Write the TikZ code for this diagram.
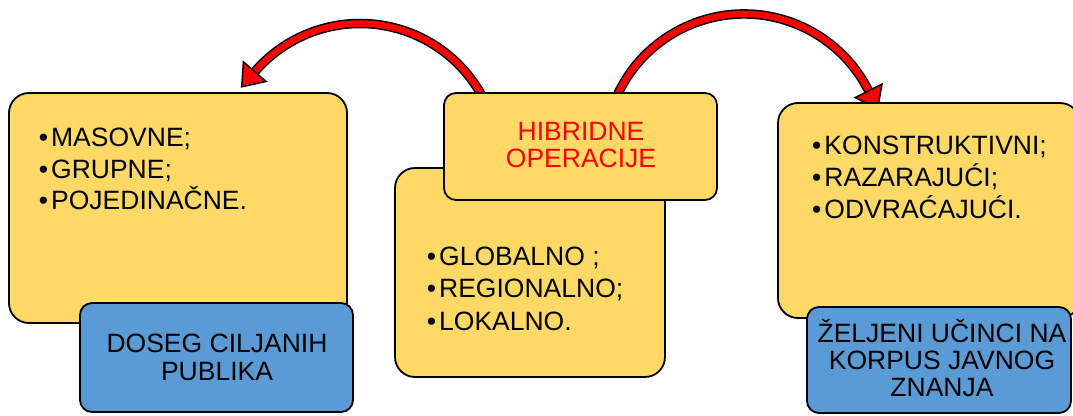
\documentclass[tikz,border=0pt]{standalone}
\usepackage{fontspec}
\setmainfont{Liberation Sans}
\usetikzlibrary{calc}
\definecolor{boxyellow}{HTML}{FFD966}
\definecolor{boxblue}{HTML}{5B9BD5}
\definecolor{arrowred}{HTML}{FF0000}
\tikzset{
  ybox/.style={draw=black, line width=1.8pt, fill=boxyellow, rounded corners=20pt, inner sep=0pt, outer sep=0pt, anchor=south west},
  hbox/.style={draw=black, line width=1.8pt, fill=boxyellow, rounded corners=12pt, inner sep=0pt, outer sep=0pt, anchor=south west},
  bbox/.style={draw=black, line width=1.8pt, fill=boxblue, rounded corners=12pt, inner sep=0pt, outer sep=0pt, anchor=south west},
  item/.style={font=\fontsize{26.5}{31.5}\selectfont, anchor=base west, inner sep=0pt, text=black},
  lbl/.style={font=\fontsize{26.5}{27.5}\selectfont, anchor=base, inner sep=0pt, text=black},
  shaft/.style={draw=black, line width=1.5pt, double=arrowred, double distance=6.5pt},
  head/.style={fill=arrowred, draw=black, line width=1.5pt, line join=miter}
}
\begin{document}
\begin{tikzpicture}[x=1pt,y=1pt]
\useasboundingbox (0,0) rectangle (1073,415);
% left group
\node[ybox, minimum width=338pt, minimum height=230pt] (L) at (9,92) {};
\node[bbox, minimum width=273pt, minimum height=109pt] (B1) at (80,3) {};
% middle lower box
\node[ybox, minimum width=270pt, minimum height=209pt] (M) at (395,38) {};
% arrows
\coordinate (lc) at (360,252.5);
\coordinate (rc) at (744,261.5);
\draw[shaft] ($(lc)+(28:139)$) arc[start angle=28, end angle=139.2, radius=139];
\draw[head] ($(lc)+(139.2:154)$) -- ($(lc)+(139.2:139)+(229.2:20)$) -- ($(lc)+(139.2:124)$) -- cycle;
\draw[shaft] ($(rc)+(157:139.5)$) arc[start angle=157, end angle=26.7, radius=139.5];
\draw[head] ($(rc)+(26.7:154.5)$) -- ($(rc)+(26.7:139.5)+(-63.3:20)$) -- ($(rc)+(26.7:124.5)$) -- cycle;
% middle top box
\node[hbox, minimum width=273pt, minimum height=107pt] (H) at (444,215) {};
% right group
\node[ybox, minimum width=302pt, minimum height=215pt] (R) at (778,97) {};
\node[bbox, minimum width=264pt, minimum height=106pt] (B2) at (807,2) {};
% texts
\node[item] (l1) at (38.7,268.3) {•\hspace{3pt}MASOVNE;};
\node[item] (l2) at (38.7,236.7) {•\hspace{3pt}GRUPNE;};
\node[item] (l3) at (38.7,205) {•\hspace{3pt}POJEDINAČNE.};
\node[item] (m1) at (426.7,149) {•\hspace{3pt}GLOBALNO ;};
\node[item] (m2) at (426.7,117) {•\hspace{3pt}REGIONALNO;};
\node[item] (m3) at (426.7,84.5) {•\hspace{3pt}LOKALNO.};
\node[item] (r1) at (812,260) {•\hspace{3pt}KONSTRUKTIVNI;};
\node[item] (r2) at (812,228.3) {•\hspace{3pt}RAZARAJUĆI;};
\node[item] (r3) at (812,196.7) {•\hspace{3pt}ODVRAĆAJUĆI.};
\node[lbl, text=arrowred] (h1) at (581,274) {HIBRIDNE};
\node[lbl, text=arrowred] (h2) at (581,247) {OPERACIJE};
\node[lbl] (b11) at (217,63) {DOSEG CILJANIH};
\node[lbl] (b12) at (217,35) {PUBLIKA};
\node[lbl] (b21) at (942,73) {ŽELJENI UČINCI NA};
\node[lbl] (b22) at (942,45.5) {KORPUS JAVNOG};
\node[lbl] (b23) at (942,18.5) {ZNANJA};
\end{tikzpicture}
\end{document}
